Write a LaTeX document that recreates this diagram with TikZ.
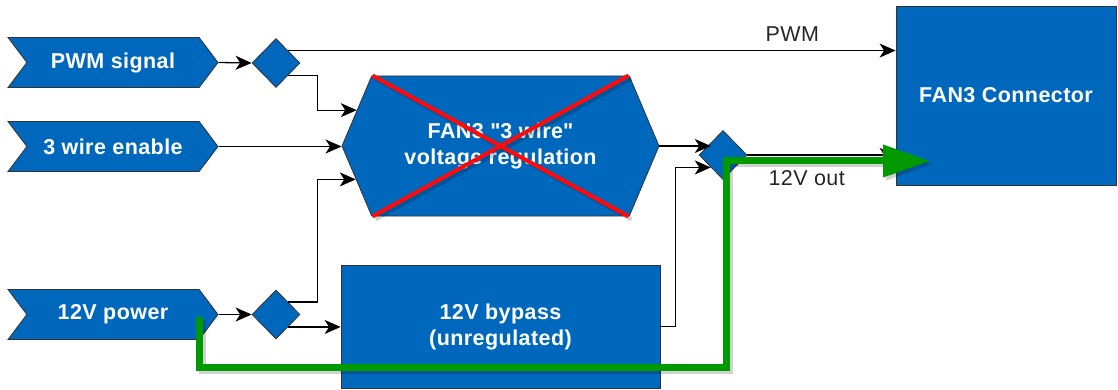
\documentclass[tikz,border=0pt]{standalone}
\usepackage{fontspec}
\setmainfont{Liberation Sans}[LetterSpace=2]
\usetikzlibrary{shapes.symbols,shapes.geometric,arrows.meta,calc}
\definecolor{blkblue}{HTML}{0068BC}
\definecolor{okgreen}{HTML}{009900}
\definecolor{xred}{HTML}{FF0A0A}

\begin{document}
\begin{tikzpicture}[x=1pt,y=-1pt,font=\fontsize{21.5}{26}\selectfont\bfseries,
  blk/.style={draw=black!80,fill=blkblue,text=white,line width=.8pt,inner sep=0pt,align=center},
  inp/.style={blk,signal,signal from=west,signal to=east,signal pointer angle=106,
              minimum width=210pt,minimum height=50pt},
  tap/.style={blk,diamond,minimum width=48pt,minimum height=49pt},
  lbl/.style={font=\fontsize{21.5}{26}\selectfont,text=black!85},
  a/.style={-{Stealth[length=16pt,width=14pt,inset=4.5pt]},line width=1.3pt},
  shd/.style={draw=black,opacity=.18,transform canvas={shift={(3pt,-3pt)}}},
  cut/.style={draw=xred,line width=4pt},
  path12/.style={draw=okgreen,line width=7pt,-{Triangle[length=47pt,width=31pt]}}]
\useasboundingbox (0,0) rectangle (1118,390);

% inputs
\node[inp](pwm) at (113,62.5){PWM signal};
\node[inp](en3) at (113,146.5){3 wire enable};
\node[inp](p12) at (113,314.5){12V power};

% splitters
\node[tap](dia1) at (276,63){}; \node[tap](dia2) at (276,314.5){};
\node[tap](dia3) at (723,155){};

% blocks
\node[blk,signal,signal to=east and west,signal from=nowhere,signal pointer angle=134,
      minimum width=317pt,minimum height=140pt](reg) at (500.5,146)
      {FAN3 \textquotedbl 3 wire\textquotedbl\\voltage regulation};
\node[blk,rectangle,minimum width=319pt,minimum height=123pt](byp) at (500.5,326.5){12V bypass\\(unregulated)};
\node[blk,rectangle,minimum width=220pt,minimum height=179pt](conn) at (1006,95.5){FAN3 Connector};

% wiring
\draw[a](pwm.east)--(dia1.west); \draw[a](p12.east)--(dia2.west);
\draw[a](dia1.north east)--(dia1.north east -| conn.west) node[lbl,above=5pt,pos=.83]{PWM};
\draw[a](dia1.south east)--++(29,0)|-(reg.166);
\draw[a](en3.east)--(en3.east -| reg.west);
\draw[a](dia2.north east)--++(29,0)|-(reg.193);
\draw[a](dia2.south east)--(dia2.south east -| byp.west);
\draw[a](reg.east)--(reg.east -| dia3.north west);
\draw[a](byp.east)--++(15,0)|-(dia3.south west);
\draw[a](dia3.east)--(dia3.east -| conn.west) node[lbl,below=12pt,pos=.4]{12V out};

% regulator no longer used
\draw[cut,shd]([xshift=-128pt]reg.north)--([xshift=128pt]reg.south);
\draw[cut,shd]([xshift=128pt]reg.north)--([xshift=-128pt]reg.south);
\draw[cut]([xshift=-128pt]reg.north)--([xshift=128pt]reg.south);
\draw[cut]([xshift=128pt]reg.north)--([xshift=-128pt]reg.south);

% 12V path through the bypass
\coordinate(gs) at (199,317); \coordinate(gt) at (930,161);
\draw[path12,shd](gs)--++(0,50)--++(527,0)|-(gt);
\draw[path12](gs)--++(0,50)--++(527,0)|-(gt);
\end{tikzpicture}
\end{document}
